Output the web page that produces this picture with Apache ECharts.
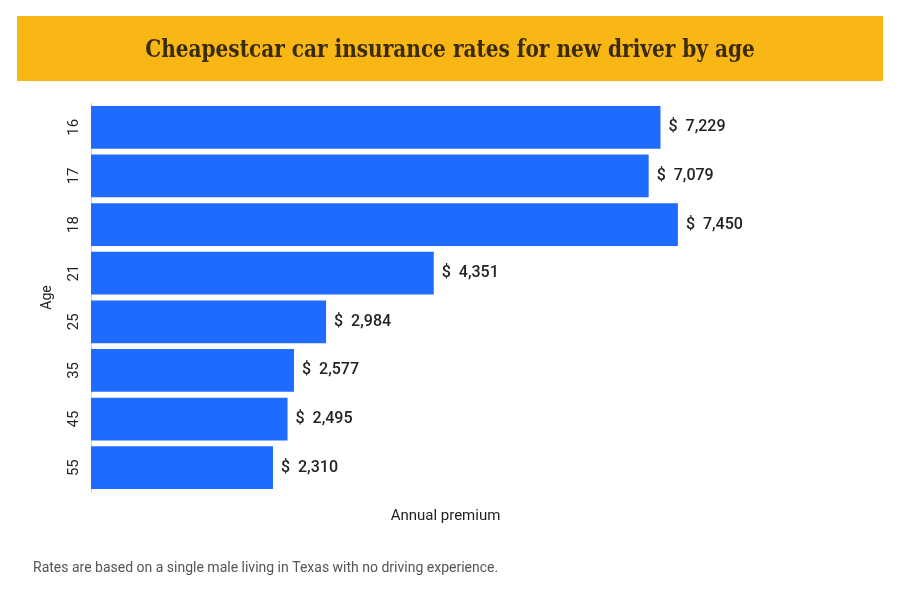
<!DOCTYPE html>
<html><head><meta charset="utf-8">
<script src="https://cdn.jsdelivr.net/npm/echarts@6/dist/echarts.min.js"></script>
<style>html,body{margin:0;padding:0;background:#fff}#c{width:900px;height:600px}</style>
</head><body><div id="c"></div>
<script>
const ages = ['16','17','18','21','25','35','45','55'];
const premiums = [7229, 7079, 7450, 4351, 2984, 2577, 2495, 2310];
const titleText = 'Cheapestcar car insurance rates for new driver by age';
const xName = 'Annual premium';
const yName = 'Age';
const footnote = 'Rates are based on a single male living in Texas with no driving experience.';

const chart = echarts.init(document.getElementById('c'));
chart.setOption({
  backgroundColor: '#ffffff',
  animation: false,
  graphic: [
    {type:'rect', shape:{x:17,y:16,width:866,height:65}, style:{fill:'#F9B715'}},
    {type:'text', x:450, y:51, scaleX:0.93, style:{text:titleText, align:'center', verticalAlign:'middle',
      font:'bold 24px "DejaVu Serif Condensed", "Liberation Serif", serif', fill:'#3a2b0c'}},
    {type:'text', left:33, top:561, style:{text:footnote, font:'14px Roboto, sans-serif', fill:'#555'}}
  ],
  grid: {left:91, top:103, width:709, height:389, containLabel:false},
  xAxis: {
    type:'value', min:0, max:9000,
    axisLine:{show:false}, axisTick:{show:false}, axisLabel:{show:false}, splitLine:{show:false},
    name:xName, nameLocation:'middle', nameGap:17,
    nameTextStyle:{fontFamily:'Roboto', fontSize:15, color:'#222'}
  },
  yAxis: {
    type:'category', data:ages, inverse:true,
    axisLine:{show:true, lineStyle:{color:'#cccccc', width:1}},
    axisTick:{show:false},
    axisLabel:{rotate:90, fontFamily:'Roboto', fontSize:15, color:'#222', margin:9},
    name:yName, nameLocation:'middle', nameGap:37, nameRotate:90,
    nameTextStyle:{fontFamily:'Roboto', fontSize:14, color:'#222'}
  },
  series: [{
    type:'bar', data:premiums, barCategoryGap:'12%',
    itemStyle:{color:'#1F6BFF'},
    label:{show:true, position:'right', distance:8, fontFamily:'Roboto', fontSize:16, fontWeight:500, color:'#222',
      formatter: p => '$  ' + p.value.toLocaleString('en-US')}
  }]
});
</script></body></html>
